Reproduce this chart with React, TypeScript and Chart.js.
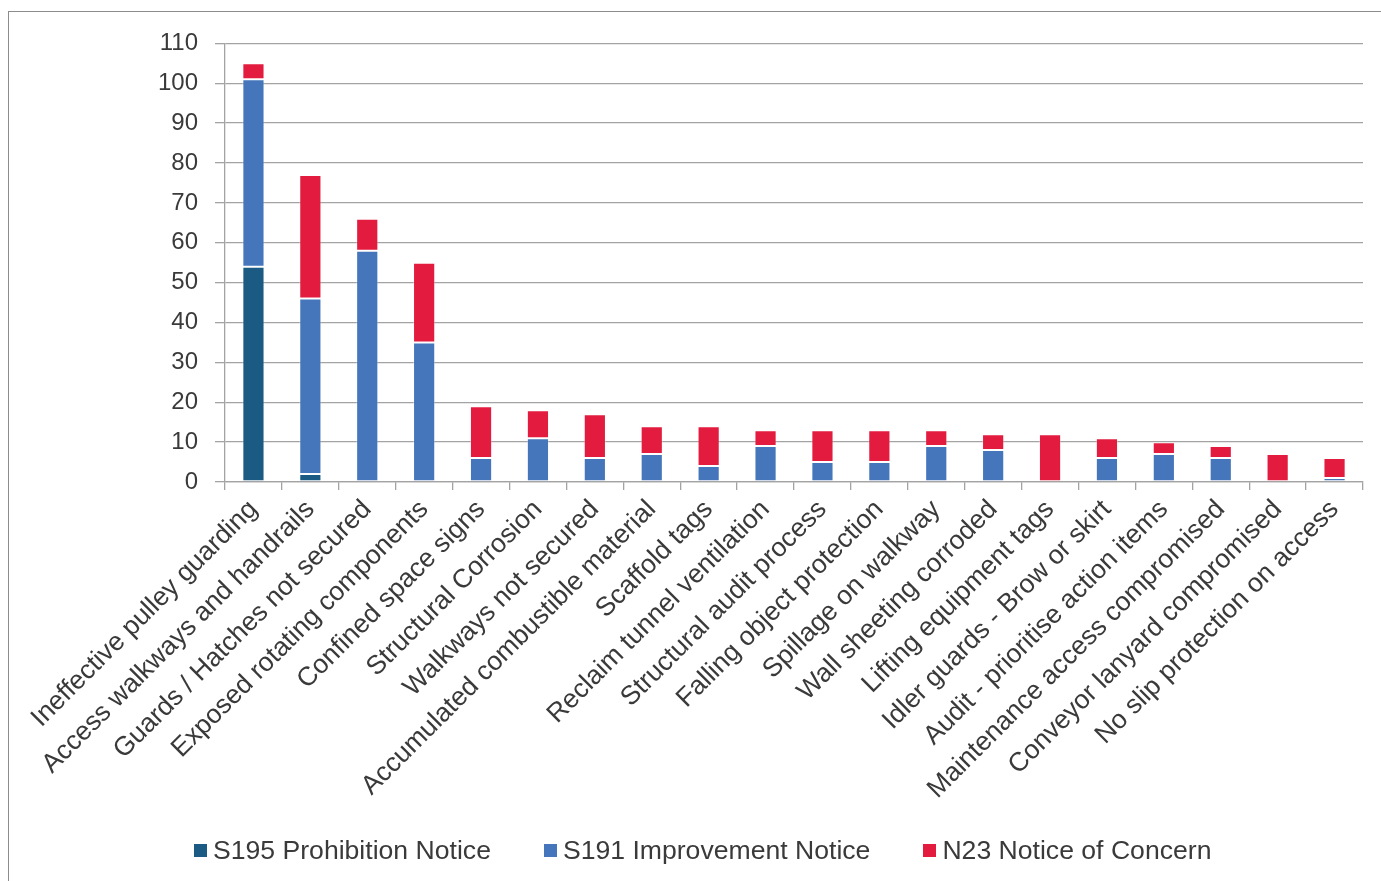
import React, { useEffect, useRef } from "react";
import { Chart, registerables } from "chart.js";

Chart.register(...registerables);

const categories = [
  "Ineffective pulley guarding",
  "Access walkways and handrails",
  "Guards / Hatches not secured",
  "Exposed rotating components",
  "Confined space signs",
  "Structural Corrosion",
  "Walkways not secured",
  "Accumulated combustible material",
  "Scaffold tags",
  "Reclaim tunnel ventilation",
  "Structural audit process",
  "Falling object protection",
  "Spillage on walkway",
  "Wall sheeting corroded",
  "Lifting equipment tags",
  "Idler guards - Brow or skirt",
  "Audit - prioritise action items",
  "Maintenance access compromised",
  "Conveyor lanyard compromised",
  "No slip protection on access",
];

const s195 = [54, 2, 0, 0, 0, 0, 0, 0, 0, 0, 0, 0, 0, 0, 0, 0, 0, 0, 0, 0];
const s191 = [47, 44, 58, 35, 6, 11, 6, 7, 4, 9, 5, 5, 9, 8, 0, 6, 7, 6, 0, 1];
const n23 = [4, 31, 8, 20, 13, 7, 11, 7, 10, 4, 8, 8, 4, 4, 12, 5, 3, 3, 7, 5];

const seriesNames = ["S195 Prohibition Notice", "S191 Improvement Notice", "N23 Notice of Concern"];
const seriesColors = ["#1b5a82", "#4576bb", "#e21b3f"];

const yMin = 0;
const yMax = 110;
const yStep = 10;

const FONT = "'Liberation Sans', Arial, sans-serif";
const TEXT = "#3a3a3a";
const GRID = "#a3a3a3";

export default function App() {
  const ref = useRef<HTMLCanvasElement | null>(null);

  useEffect(() => {
    if (!ref.current) return;
    const data = [s195, s191, n23];
    const chart = new Chart(ref.current, {
      type: "bar",
      data: {
        labels: categories,
        datasets: seriesNames.map((name, i) => ({
          label: name,
          data: data[i],
          backgroundColor: seriesColors[i],
          borderColor: "rgba(255,255,255,0.3)",
          borderWidth: 1,
          borderSkipped: false,
          categoryPercentage: 0.39,
          barPercentage: 1,
        })),
      },
      options: {
        animation: false,
        responsive: true,
        maintainAspectRatio: false,
        layout: { padding: { top: 28, right: 18, left: 0, bottom: 0 } },
        plugins: {
          tooltip: { enabled: false },
          legend: { display: false },
        },
        scales: {
          x: {
            stacked: true,
            afterFit: (s: any) => {
              s.height = 399;
            },
            grid: {
              offset: true,
              drawOnChartArea: false,
              drawTicks: true,
              tickLength: 8,
              color: GRID,
              lineWidth: 1.3,
            },
            border: { display: true, color: GRID, width: 1.3 },
            ticks: {
              autoSkip: false,
              maxRotation: 45,
              minRotation: 45,
              padding: 4,
              color: TEXT,
              font: { family: FONT, size: 26.5 },
            },
          },
          y: {
            stacked: true,
            min: yMin,
            max: yMax,
            afterFit: (s: any) => {
              s.width = 216;
            },
            grid: {
              color: GRID,
              lineWidth: 1.3,
              tickLength: 10,
            },
            border: { display: true, color: GRID, width: 1.3 },
            ticks: {
              stepSize: yStep,
              padding: 17,
              color: TEXT,
              font: { family: FONT, size: 24 },
            },
          },
        },
      },
    });
    return () => chart.destroy();
  }, []);

  return (
    <div
      style={{
        position: "fixed",
        left: 8,
        top: 11,
        width: 1373,
        height: 870,
        boxSizing: "border-box",
        borderTop: "1px solid #8c8c8c",
        borderLeft: "1px solid #8c8c8c",
        background: "#fff",
      }}
    >
      <div style={{ position: "relative", width: 1372, height: 869 }}>
        <canvas ref={ref} />
        <div
          style={{
            position: "absolute",
            left: 185,
            top: 820,
            height: 36,
            display: "flex",
            alignItems: "center",
            gap: 53,
            fontFamily: FONT,
            fontSize: 26.6,
            color: TEXT,
            whiteSpace: "nowrap",
          }}
        >
          {seriesNames.map((name, i) => (
            <div key={name} style={{ display: "flex", alignItems: "center" }}>
              <span
                style={{
                  display: "inline-block",
                  width: 13,
                  height: 13,
                  background: seriesColors[i],
                  marginRight: 6,
                }}
              />
              <span>{name}</span>
            </div>
          ))}
        </div>
      </div>
    </div>
  );
}
